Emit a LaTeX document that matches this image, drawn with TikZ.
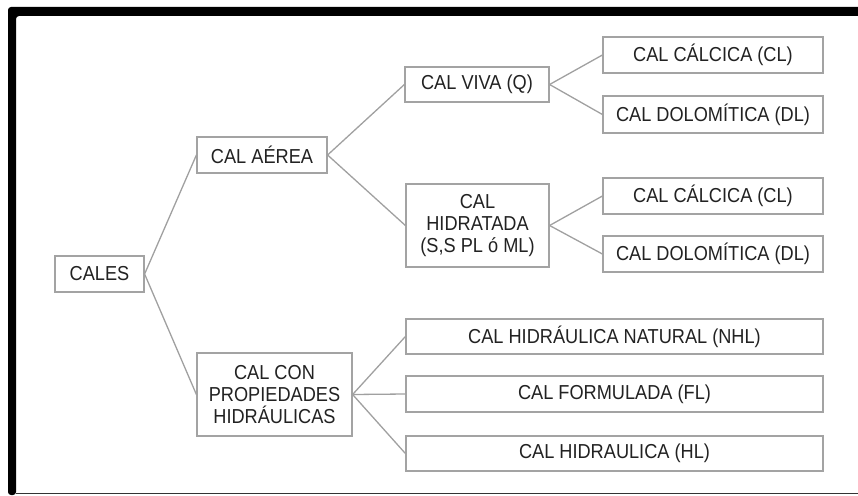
\documentclass[tikz,border=0pt]{standalone}
\usepackage{fontspec}
\setmainfont{Liberation Sans}[FakeStretch=0.9]
\definecolor{txt}{HTML}{222222}
\definecolor{bord}{HTML}{A3A3A3}
\definecolor{conn}{HTML}{A0A0A0}
\begin{document}
\begin{tikzpicture}[x=1pt,y=-1pt,
  box/.style={draw=bord,line width=1.2pt,fill=white,inner sep=0pt,align=center,
    text=txt,font=\fontsize{20.2}{21.7}\selectfont},
  link/.style={draw=conn,line width=1.3pt}]
\useasboundingbox (0,0) rectangle (858,495);
% frame
\fill[black,rounded corners=3pt] (8,495) -- (8,7) -- (870,7) -- (870,16) -- (16,16) -- (16,495) -- cycle;
\draw[black!80,line width=1pt] (16,493.5) -- (858,493.5);
% nodes
\node[box,minimum width=89pt,minimum height=36pt] (cales) at (99.5,274) {CALES};
\node[box,minimum width=130pt,minimum height=36pt] (aerea) at (262,155) {CAL AÉREA};
\node[box,minimum width=155pt,minimum height=83pt] (hidr) at (274.5,394.5) {CAL CON\\PROPIEDADES\\HIDRÁULICAS};
\node[box,minimum width=144pt,minimum height=35pt] (viva) at (477,84.5) {CAL VIVA (Q)};
\node[box,minimum width=143pt,minimum height=83pt] (hidrat) at (477.5,225.5) {CAL\\HIDRATADA\\(S,S PL ó ML)};
\node[box,minimum width=220pt,minimum height=36pt] (cla) at (713,55) {CAL CÁLCICA (CL)};
\node[box,minimum width=220pt,minimum height=37pt] (dla) at (713,114.5) {CAL DOLOMÍTICA (DL)};
\node[box,minimum width=220pt,minimum height=36pt] (clb) at (713,196) {CAL CÁLCICA (CL)};
\node[box,minimum width=220pt,minimum height=36pt] (dlb) at (713,254) {CAL DOLOMÍTICA (DL)};
\node[box,minimum width=417pt,minimum height=35pt] (nhl) at (614.5,336.5) {CAL HIDRÁULICA NATURAL (NHL)};
\node[box,minimum width=417pt,minimum height=36pt] (fl) at (614.5,394) {CAL FORMULADA (FL)};
\node[box,minimum width=417pt,minimum height=35pt] (hl) at (614.5,453.5) {CAL HIDRAULICA (HL)};
% connectors
\draw[link] (cales.east) -- (aerea.west);
\draw[link] (cales.east) -- (hidr.west);
\draw[link] (aerea.east) -- (viva.west);
\draw[link] (aerea.east) -- (hidrat.west);
\draw[link] (viva.east) -- (cla.west);
\draw[link] (viva.east) -- (dla.west);
\draw[link] (hidrat.east) -- (clb.west);
\draw[link] (hidrat.east) -- (dlb.west);
\draw[link] (hidr.east) -- (nhl.west);
\draw[link] (hidr.east) -- (fl.west);
\draw[link] (hidr.east) -- (hl.west);
\end{tikzpicture}
\end{document}
